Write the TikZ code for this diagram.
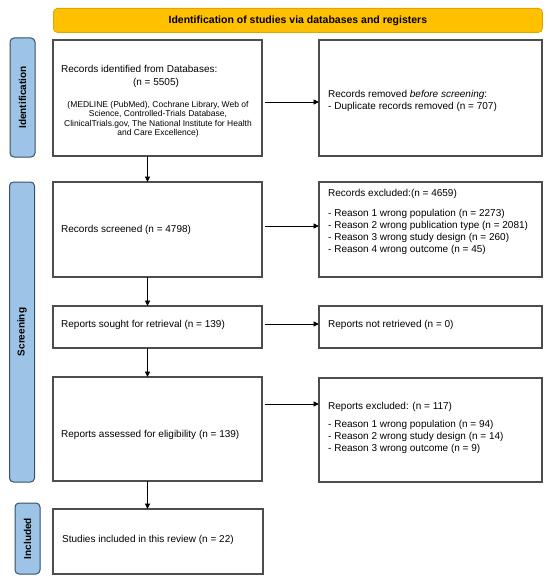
\documentclass[tikz,border=0pt]{standalone}
\usepackage{fontspec}
\setmainfont{Liberation Sans}
\usetikzlibrary{arrows.meta}
\definecolor{boxgray}{HTML}{4D4D4D}
\definecolor{bannerfill}{HTML}{FFC000}
\definecolor{bannerdraw}{HTML}{E0A400}
\definecolor{labfill}{HTML}{9DC3E6}
\definecolor{labdraw}{HTML}{34506B}
\begin{document}
\begin{tikzpicture}[x=1pt,y=-1pt,
  box/.style={draw=boxgray, line width=1.1pt, anchor=north west, inner sep=0pt, outer sep=0pt, fill=white},
  banner/.style={draw=bannerdraw, fill=bannerfill, line width=0.8pt, rounded corners=4pt, anchor=north west, inner sep=0pt,
     font=\bfseries\fontsize{10.5}{12}\selectfont},
  sidelab/.style={draw=labdraw, fill=labfill, line width=1pt, rounded corners=4pt, rotate=90, minimum height=25pt, inner sep=0pt,
     font=\bfseries\fontsize{10}{12}\selectfont},
  txt/.style={anchor=west, inner sep=0pt, align=left, font=\fontsize{10}{11.9}\selectfont},
  small/.style={inner sep=0pt, align=center, font=\fontsize{8.5}{9.5}\selectfont},
  arr/.style={-{Triangle[length=5.5pt,width=5pt]}, line width=0.9pt, black}]
\useasboundingbox (0,0) rectangle (550,583);
\fill[white] (0,0) rectangle (550,583);

% banner
\node[banner, minimum width=489pt, minimum height=24pt] (ban) at (53,8) {Identification of studies via databases and registers};

% side labels
\node[sidelab, minimum width=119pt] (lid) at (22.5,97.5) {Identification};
\node[sidelab, minimum width=300pt] (lsc) at (22,332) {Screening};
\node[sidelab, minimum width=71pt] (lin) at (27.5,538.5) {Included};

% boxes
\node[box, minimum width=209pt, minimum height=116pt] (b1) at (53,40) {};
\node[box, minimum width=223pt, minimum height=116pt] (r1) at (319,40) {};
\node[box, minimum width=209pt, minimum height=95pt] (b2) at (53,182) {};
\node[box, minimum width=223pt, minimum height=95pt] (r2) at (319,182) {};
\node[box, minimum width=209pt, minimum height=42pt] (b3) at (53,306) {};
\node[box, minimum width=223pt, minimum height=42pt] (r3) at (319,306) {};
\node[box, minimum width=209pt, minimum height=104pt] (b4) at (53,377) {};
\node[box, minimum width=223pt, minimum height=104pt] (r4) at (319,378) {};
\node[box, minimum width=210pt, minimum height=65pt] (b5) at (53,509) {};

% texts
\node[txt] (t1a) at (61,69) {Records identified from Databases:};
\node[txt, anchor=center] (t1b) at (156,83) {(n = 5505)};
\node[small] (t1c) at (158,119.5) {(MEDLINE (PubMed), Cochrane Library, Web of\\Science, Controlled-Trials Database,\\ClinicalTrials.gov, The National Institute for Health\\and Care Excellence)};
\node[txt, font=\fontsize{10}{12.3}\selectfont] (tr1) at (328,101) {Records removed \textit{before screening}:\\- Duplicate records removed (n = 707)};

\node[txt] (t2) at (61,230) {Records screened (n = 4798)};
\node[txt] (tr2a) at (328,194.4) {Records excluded:(n = 4659)};
\node[txt] (tr2b) at (328,231.6) {- Reason 1 wrong population (n = 2273)\\- Reason 2 wrong publication type (n = 2081)\\- Reason 3 wrong study design (n = 260)\\- Reason 4 wrong outcome (n = 45)};

\node[txt] (t3) at (61,325) {Reports sought for retrieval (n = 139)};
\node[txt] (tr3) at (328,325) {Reports not retrieved (n = 0)};

\node[txt] (t4) at (61,434.6) {Reports assessed for eligibility (n = 139)};
\node[txt] (tr4a) at (328,406.5) {Reports excluded: (n = 117)};
\node[txt, font=\fontsize{10}{12.1}\selectfont] (tr4b) at (328,437.2) {- Reason 1 wrong population (n = 94)\\- Reason 2 wrong study design (n = 14)\\- Reason 3 wrong outcome (n = 9)};

\node[txt] (t5) at (62,540) {Studies included in this review (n = 22)};

% connectors
\coordinate (v) at (147.5,0);
\coordinate (h1) at (0,102);
\coordinate (h2) at (0,226);
\coordinate (h3) at (0,324);
\coordinate (h4) at (0,404);
\draw[arr, shorten <=3pt] (b1.east |- h1) -- (r1.west |- h1);
\draw[arr, shorten <=3pt] (b2.east |- h2) -- (r2.west |- h2);
\draw[arr, shorten <=3pt] (b3.east |- h3) -- (r3.west |- h3);
\draw[arr, shorten <=3pt] (b4.east |- h4) -- (r4.west |- h4);
\draw[arr] (b1.south -| v) -- (b2.north -| v);
\draw[arr] (b2.south -| v) -- (b3.north -| v);
\draw[arr] (b3.south -| v) -- (b4.north -| v);
\draw[arr] (b4.south -| v) -- (b5.north -| v);
\end{tikzpicture}
\end{document}
